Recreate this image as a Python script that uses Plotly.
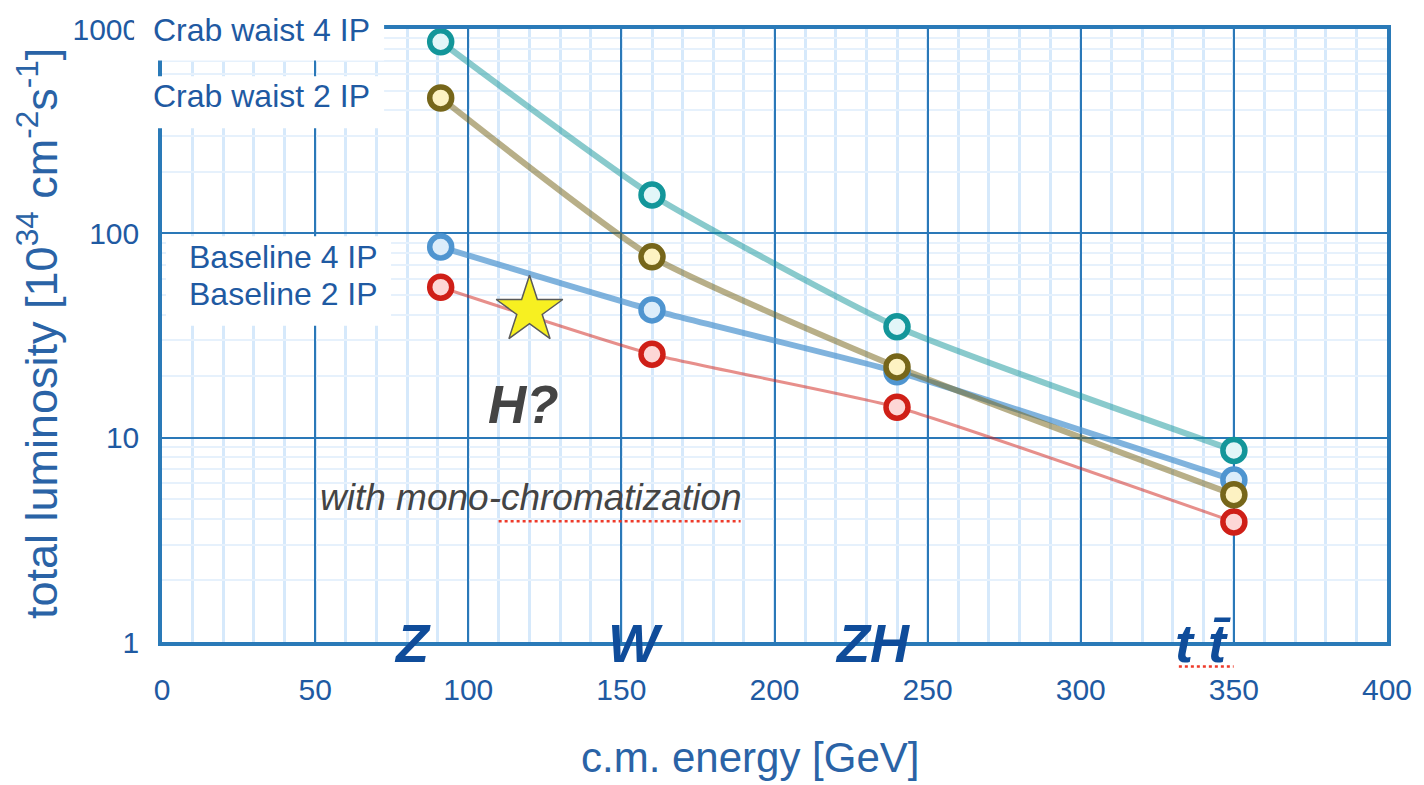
import plotly.graph_objects as go

# centre-of-mass energies of the four operating points [GeV]
energy = [91, 160, 240, 350]

# total luminosity [1e34 cm^-2 s^-1]
crab_waist_4ip = [866, 154, 34.9, 8.66]
crab_waist_2ip = [460, 76.7, 22.2, 5.26]
baseline_4ip = [85.7, 42.2, 21.0, 6.2]
baseline_2ip = [54.5, 25.6, 14.1, 3.87]

# Higgs s-channel option (mono-chromatization)
higgs_energy = [120]
higgs_lumi = [42]

x_ticks = [0, 50, 100, 150, 200, 250, 300, 350, 400]
y_ticks = [1, 10, 100, 1000]
y_tick_text = ["1", "10", "100", "1000"]

# process labels along the energy axis
process_labels = ["Z", "W", "ZH", "t t\u0304"]

W, H = 1424, 785
ML, MR, MT, MB = 162, 32, 18, 143
PW, PH = W - ML - MR, H - MT - MB


def px(xp):
    return (xp - ML) / PW


def py(yp):
    return (H - MB - yp) / PH


FONT = "Liberation Sans, Arial, Helvetica, sans-serif"
TEXT_BLUE = "#1f5aa2"

series = [
    # name, values, line colour, line width, marker border, marker fill
    ("Baseline 2 IP", baseline_2ip, "rgba(207,31,23,0.5)", 3, "#cf1f17", "#fdd7d6"),
    ("Baseline 4 IP", baseline_4ip, "rgba(79,149,208,0.72)", 6, "#4f95d0", "#dcedfa"),
    ("Crab waist 2 IP", crab_waist_2ip, "rgba(118,102,26,0.52)", 6, "#76661a", "#fdf2c2"),
    ("Crab waist 4 IP", crab_waist_4ip, "rgba(19,150,154,0.5)", 6, "#13969a", "#e2f6f8"),
]

fig = go.Figure()

# connecting curves first, so every marker sits on top of them
for name, vals, lc, lw, _, _ in series:
    fig.add_trace(go.Scatter(
        x=energy, y=vals, mode="lines", name=name,
        line=dict(color=lc, width=lw, shape="spline", smoothing=0.5),
        hoverinfo="skip", showlegend=False,
    ))

for name, vals, _, _, mc, mf in series:
    fig.add_trace(go.Scatter(
        x=energy, y=vals, mode="markers", name=name,
        marker=dict(size=22, color=mf, line=dict(color=mc, width=5.5)),
        showlegend=False,
    ))

fig.add_trace(go.Scatter(
    x=higgs_energy, y=higgs_lumi, mode="markers", name="H?",
    marker=dict(symbol="star", size=50, color="#f7f021",
                line=dict(color="#5a5a5a", width=1.5)),
    showlegend=False,
))

fig.update_layout(
    width=W, height=H,
    margin=dict(l=ML, r=MR, t=MT, b=MB),
    paper_bgcolor="white", plot_bgcolor="white",
    font=dict(family=FONT, color=TEXT_BLUE),
    xaxis=dict(
        range=[0, 400], tickvals=x_ticks, ticks="",
        tickfont=dict(size=30, color=TEXT_BLUE), ticklabelstandoff=18,
        showgrid=True, gridcolor="#2a78b8", gridwidth=2,
        minor=dict(dtick=10, showgrid=True, gridcolor="#d6e9fb", gridwidth=2.5),
        showline=True, mirror=True, linecolor="#2a7ab8", linewidth=3.5,
        zeroline=False,
    ),
    yaxis=dict(
        type="log", range=[0, 3], tickvals=y_ticks, ticktext=y_tick_text, ticks="",
        tickfont=dict(size=30, color=TEXT_BLUE), ticklabelstandoff=13,
        showgrid=True, gridcolor="#2a78b8", gridwidth=2,
        minor=dict(dtick="D1", showgrid=True, gridcolor="#e6f1fc", gridwidth=2),
        showline=True, mirror=True, linecolor="#2a7ab8", linewidth=3.5,
        zeroline=False,
    ),
)

# white panels behind the series labels
for x0, y0, x1, y1 in [(134, 0, 385, 50), (148, 66, 385, 119), (166, 229, 392, 320)]:
    fig.add_shape(type="rect", xref="paper", yref="paper",
                  x0=px(x0), x1=px(x1), y0=py(y1), y1=py(y0),
                  fillcolor="white", line=dict(width=0), layer="above")


def label(text, xp, yp, size, color, family=FONT, angle=0):
    fig.add_annotation(text=text, xref="paper", yref="paper", x=px(xp), y=py(yp),
                       showarrow=False, xanchor="center", yanchor="middle",
                       textangle=angle,
                       font=dict(size=size, color=color, family=family))


label("Crab waist 4 IP", 262, 19, 32, TEXT_BLUE)
label("Crab waist 2 IP", 262, 86, 32, TEXT_BLUE)
label("Baseline 4 IP", 284, 250, 32, TEXT_BLUE)
label("Baseline 2 IP", 284, 288, 32, TEXT_BLUE)

for text, xp in zip(process_labels, [414, 637, 875, 1207]):
    label("<b><i>%s</i></b>" % text, xp, 643, 54, "#0f4c9a")

label("<b><i>H?</i></b>", 525, 400, 53, "#444444")
label("<i>with mono-chromatization</i>", 533, 495, 37, "#444444")

# spell-check style squiggles
for x0, x1, yp in [(500, 743, 519), (1183, 1238, 667)]:
    fig.add_shape(type="line", xref="paper", yref="paper",
                  x0=px(x0), x1=px(x1), y0=py(yp), y1=py(yp),
                  line=dict(color="#ee3a2a", width=2.5, dash="dot"), layer="above")

# axis titles
label("c.m. energy [GeV]", 752, 760, 42, "#2a63a6")
label("total luminosity [10<sup>34</sup> cm<sup>-2</sup>s<sup>-1</sup>]", 37, 328, 45,
      "#2a63a6", angle=-90)

fig.write_html("out.html")
